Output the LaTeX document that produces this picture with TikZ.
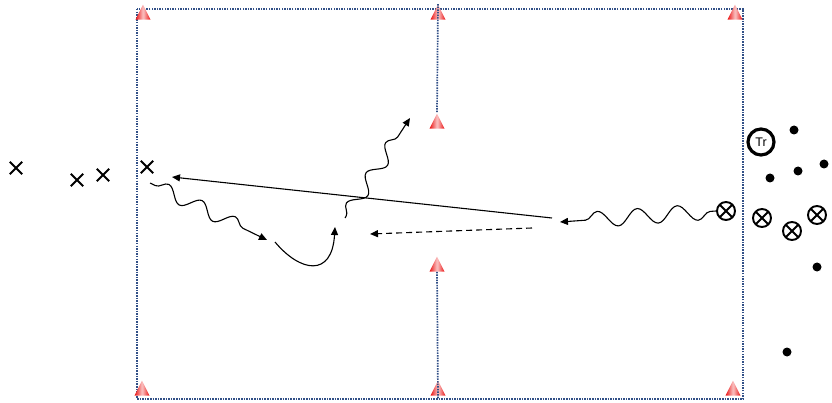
\documentclass[tikz,border=0pt]{standalone}
\usepackage{fontspec}
\setsansfont{Liberation Sans}
\usepackage{tikz}
\usetikzlibrary{arrows.meta, positioning, calc, shapes.geometric, shapes.misc, decorations.pathmorphing}
\definecolor{fieldblue}{RGB}{50, 80, 135}
\definecolor{conered}{RGB}{235, 20, 20}

\begin{document}
\begin{tikzpicture}[x=1pt, y=-1pt,
  field/.style={fieldblue, line width=1.7pt, dash pattern=on 1.5pt off 1.1pt},
  cone/.style={isosceles triangle, isosceles triangle stretches, shape border rotate=90,
    minimum width=15pt, minimum height=15pt, inner sep=0pt,
    left color=conered, right color=conered, middle color=conered!25},
  attacker/.style={cross out, draw, line width=1.8pt, minimum size=10.5pt, inner sep=0pt},
  defender/.style={circle, draw, line width=1.9pt, minimum size=18pt, inner sep=0pt,
    path picture={\draw[line width=1.9pt]
      (path picture bounding box.north west) -- (path picture bounding box.south east)
      (path picture bounding box.north east) -- (path picture bounding box.south west);}},
  ball/.style={circle, fill, minimum size=9pt, inner sep=0pt},
  coach/.style={circle, draw, line width=3.2pt, minimum size=26pt, inner sep=0pt, font=\sffamily\fontsize{12.5}{12.5}\selectfont},
  pass/.style={line width=1.1pt, -{Triangle[length=8pt, width=7pt]}},
  run/.style={pass, decorate, decoration={snake, amplitude=8pt, segment length=40pt, pre length=6pt, post length=9pt}}]
  \useasboundingbox (0,0) rectangle (832,403);

  \draw[field] (137,9) rectangle (743,399);

  \node[cone] (coneTL) at (143,15) {};
  \node[cone] (coneTM) at (438,15) {};
  \node[cone] (coneTR) at (735,15) {};
  \node[cone] (coneMU) at (437,124) {};
  \node[cone] (coneMD) at (437,267) {};
  \node[cone] (coneBL) at (142,391) {};
  \node[cone] (coneBM) at (438,391) {};
  \node[cone] (coneBR) at (733,391) {};
  \draw[field] (coneTM.north) -- (coneMU.north);
  \draw[field] (coneMD.south) -- (438,399);

  \node[attacker] (x1) at (16,168) {};
  \node[attacker] (x2) at (77,180) {};
  \node[attacker] (x3) at (103,175) {};
  \node[attacker] (x4) at (147,167) {};

  \node[defender] (o1) at (726,211) {};
  \node[defender] (o2) at (762,218) {};
  \node[defender] (o3) at (792,231) {};
  \node[defender] (o4) at (817,215) {};

  \node[coach] (tr) at (761,142) {Tr};

  \node[ball] (d1) at (794,130) {};
  \node[ball] (d2) at (770,178) {};
  \node[ball] (d3) at (798,171) {};
  \node[ball] (d4) at (824,164) {};
  \node[ball] (d5) at (817,267) {};
  \node[ball] (d6) at (787,352) {};

  \coordinate (passStart) at (552,218);
  \coordinate (passEnd) at (172,177);
  \coordinate (dashStart) at (532,228);
  \coordinate (dashEnd) at (370,234);
  \coordinate (dribbleEnd) at (560,222);
  \coordinate (leftStart) at (150,183);
  \coordinate (leftEnd) at (267,240);
  \coordinate (curveStart) at (275,242);
  \coordinate (curveEnd) at (335,227);
  \coordinate (upStart) at (345,218);
  \coordinate (upEnd) at (410,118);

  \draw[pass] (passStart) -- (passEnd);
  \draw[pass, dash pattern=on 6pt off 4pt] (dashStart) -- (dashEnd);
  \draw[run] (o1.west) -- (dribbleEnd);
  \draw[run, decoration={amplitude=7pt, segment length=37pt}] (leftStart) -- (leftEnd);
  \draw[pass] (curveStart) .. controls (300,272) and (332,278) .. (curveEnd);
  \draw[run, decoration={amplitude=7pt, segment length=36pt, pre length=2pt}] (upStart) -- (upEnd);
\end{tikzpicture}
\end{document}
